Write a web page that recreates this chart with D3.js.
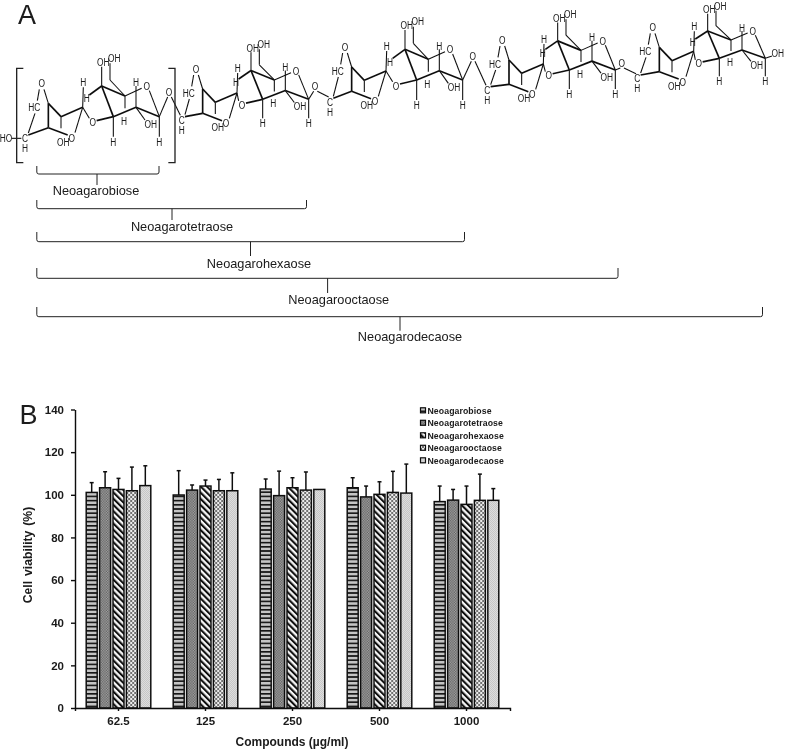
<!DOCTYPE html>
<html><head><meta charset="utf-8">
<script src="https://cdnjs.cloudflare.com/ajax/libs/d3/7.8.5/d3.min.js"></script>
<style>html,body{margin:0;background:#fff}svg{display:block}text{font-family:"Liberation Sans",Arial,sans-serif;fill:#1a1a1a}</style>
</head><body><div id="c"></div>
<script>
// ---- data ----
const doses = ["62.5","125","250","500","1000"];
const seriesNames = ["Neoagarobiose","Neoagarotetraose","Neoagarohexaose","Neoagarooctaose","Neoagarodecaose"];
const biose = [101.1,99.9,102.7,103.3,96.8];
const tetra = [103.3,102.2,99.6,99,97.5];
const hexa  = [102.5,104.1,103.3,100.2,95.5];
const octa  = [101.9,101.9,102.2,101.1,97.4];
const deca  = [104.3,101.9,102.5,100.8,97.4];
const bioseTop = [105.7,111.3,107.4,108,104.1];
const tetraTop = [110.8,104.6,111.1,104.1,102.5];
const hexaTop  = [107.7,106.9,108,106.1,104.1];
const octaTop  = [113,107.2,110.7,111,109.7];
const decaTop  = [113.6,110.3,null,114.4,102.9];
const yTicks = [0,20,40,60,80,100,120,140];
const means = [biose,tetra,hexa,octa,deca];
const tops = [bioseTop,tetraTop,hexaTop,octaTop,decaTop];

const W=787,H=750;
const svg=d3.select("#c").append("svg").attr("width",W).attr("height",H);
const defs=svg.append("defs");
defs.append("filter").attr("id","soft").attr("x","-5%").attr("y","-5%").attr("width","110%").attr("height","110%")
  .append("feGaussianBlur").attr("stdDeviation",0.35);
const root=svg.append("g").attr("filter","url(#soft)");

// ---- fills ----
function pat(id,w,h,bg,draw,tr){const p=defs.append("pattern").attr("id",id).attr("patternUnits","userSpaceOnUse").attr("width",w).attr("height",h);
  if(tr)p.attr("patternTransform",tr);
  p.append("rect").attr("width",w).attr("height",h).attr("fill",bg);draw(p);}
pat("p0",4.2,4.2,"#c4c4c4",p=>p.append("rect").attr("width",4.2).attr("height",1.6).attr("fill","#111"));
pat("p1",2.6,2.6,"#a4a4a4",p=>{p.append("rect").attr("width",1.3).attr("height",1.3).attr("fill","#606060");p.append("rect").attr("x",1.3).attr("y",1.3).attr("width",1.3).attr("height",1.3).attr("fill","#606060");});
pat("p2",4.4,4.4,"#f6f6f6",p=>p.append("rect").attr("width",2.1).attr("height",4.4).attr("fill","#111"),"rotate(-45)");
pat("p3",4,4,"#ececec",p=>{p.append("rect").attr("width",2).attr("height",2).attr("fill","#707070");p.append("rect").attr("x",2).attr("y",2).attr("width",2).attr("height",2).attr("fill","#707070");});
pat("p4",2,2,"#e4e4e4",p=>{p.append("rect").attr("width",1).attr("height",1).attr("fill","#c0c0c0");p.append("rect").attr("x",1).attr("y",1).attr("width",1).attr("height",1).attr("fill","#c0c0c0");});

// ---- panel B chart ----
const x0=d3.scaleBand().domain(doses).range([75,510]);
const x1=d3.scaleBand().domain(d3.range(5)).range([0,64.6]).paddingInner(0.18);
const y=d3.scaleLinear().domain([0,140]).range([708,409.5]);
const gB=root.append("g");
const groups=gB.selectAll("g.dose").data(doses).join("g").attr("class","dose")
  .attr("transform",d=>`translate(${x0(d)+x0.bandwidth()/2-32.3},0)`);
groups.each(function(d,i){
  const g=d3.select(this);
  means.forEach((m,s)=>{
    const bx=x1(s),bw=x1.bandwidth(),cx=bx+bw/2;
    if(tops[s][i]!=null){
      g.append("line").attr("x1",cx).attr("x2",cx).attr("y1",y(m[i])).attr("y2",y(tops[s][i])).attr("stroke","#111").attr("stroke-width",1.5);
      g.append("line").attr("x1",cx-2).attr("x2",cx+2).attr("y1",y(tops[s][i])).attr("y2",y(tops[s][i])).attr("stroke","#111").attr("stroke-width",1.5);
    }
    g.append("rect").attr("x",bx).attr("width",bw).attr("y",y(m[i])).attr("height",y(0)-y(m[i]))
      .attr("fill",`url(#p${s})`).attr("stroke","#111").attr("stroke-width",1.5);
  });
});
const axY=gB.append("g").attr("transform","translate(75,0)").call(d3.axisLeft(y).tickValues(yTicks).tickSize(4).tickSizeOuter(0).tickPadding(7));
const axX=gB.append("g").attr("transform","translate(0,708)").call(d3.axisBottom(x0).tickSize(3).tickSizeOuter(3).tickPadding(6));
[axY,axX].forEach(a=>{a.selectAll("path,line").attr("stroke","#111").attr("stroke-width",1.4);
  a.selectAll("text").attr("font-size",11.5).attr("font-weight","bold").attr("fill","#1a1a1a").attr("font-family",'"Liberation Sans"');});
gB.append("text").attr("transform","translate(32,555) rotate(-90)").attr("text-anchor","middle").attr("font-size",12.2).attr("font-weight","bold").attr("word-spacing",1.5).text("Cell viability (%)");
gB.append("text").attr("x",292).attr("y",746).attr("text-anchor","middle").attr("font-size",12).attr("font-weight","bold").text("Compounds (µg/ml)");

// legend
const legY=d3.scalePoint().domain(seriesNames).range([410.5,460.5]);
const leg=gB.selectAll("g.leg").data(seriesNames).join("g").attr("class","leg").attr("transform",d=>`translate(420,${legY(d)})`);
leg.append("rect").attr("x",0.5).attr("y",-2.7).attr("width",5).attr("height",5).attr("stroke","#111").attr("stroke-width",1.2).attr("fill",(d,i)=>`url(#p${i})`);
leg.append("text").attr("x",7.5).attr("y",3).attr("font-size",8.7).attr("font-weight","bold").attr("letter-spacing",0.1).text(d=>d);

// panel letters
root.append("text").attr("x",18).attr("y",24).attr("font-size",27).text("A");
root.append("text").attr("x",19.5).attr("y",424).attr("font-size",27).text("B");

// ---- panel A: structure ----
const gA=root.append("g").attr("transform","scale(0.33333)");
const unitL=[[0,0],[463,-43],[910,-109],[1382,-130],[1833,-168]];
const unitR=[[0,0],[448,-52],[910,-110],[1368,-140],[1818,-175]];
const unitK=[1,0.94,1,0.95,0.89];
const chainC=[[75,415],[545,360],[990,305],[1462,270],[1912,235]];
const linkO=[[507,275],[945,258],[1418,168],[1865,188]];
const splitX=255;
const bold=[[145,383,203,405],[145,383,145,310],[145,310,183,350],[183,350,248,322],[290,362,340,350],[305,258,375,288],[340,350,408,322],[408,322,478,350],[340,350,305,258],[305,258,268,285]];
const thin=[[145,310,132,268],[118,268,112,302],[183,350,183,385],[248,322,225,398],[248,322,268,355],[248,322,250,262],[340,350,340,410],[305,258,305,200],[375,288,375,325],[375,288,330,240],[330,240,330,190],[408,322,408,258],[375,288,425,265],[448,272,478,350],[408,322,435,360],[478,350,478,410]];
const labels=[["HC",103,322],["O",125,250],["OH",190,425],["O",215,413],["H",250,247],["H",260,295],["O",278,367],["H",340,425],["H",372,362],["OH",310,185],["OH",343,173],["H",408,247],["O",440,258],["OH",452,372],["H",478,425]];
function label(g,t,px,py){g.append("text").attr("transform",`translate(${px},${py+12}) scale(0.76,1)`).attr("text-anchor","middle").attr("font-size",33).text(t);}
function bond(g,a,b,sw){g.append("line").attr("x1",a[0]).attr("y1",a[1]).attr("x2",b[0]).attr("y2",b[1]).attr("stroke","#111").attr("stroke-width",sw);}
unitL.forEach((_,i)=>{
  const u=gA.append("g");
  const P=(px,py)=>{ if(px<splitX) return [px+unitL[i][0],py+unitL[i][1]];
    return [px+unitR[i][0],350+unitR[i][1]+unitK[i]*(py-350)]; };
  bold.forEach(b=>bond(u,P(b[0],b[1]),P(b[2],b[3]),5));
  thin.forEach(b=>bond(u,P(b[0],b[1]),P(b[2],b[3]),3.2));
  labels.forEach(l=>{const p=P(l[1],l[2]);label(u,l[0],p[0],p[1]);});
  const c=chainC[i];
  label(u,"C",c[0],c[1]);label(u,"H",c[0],c[1]+30);
  bond(u,[c[0]+10,c[1]-10],P(145,383),5);
  bond(u,[c[0]+10,c[1]-16],P(105,340),3.2);
  if(i<4){const o=linkO[i],n=chainC[i+1];
    label(u,"O",o[0],o[1]);
    bond(u,P(478,350),[o[0]-4,o[1]+16],3.2);
    bond(u,[o[0]+7,o[1]+16],[n[0]-4,n[1]-14],3.2);
  }
});
// ends of the chain
const endL=gA.append("g");
bond(endL,[35,415],[64,415],3.2);
label(endL,"HO",18,415);
const eEnd=[478+unitR[4][0],350+unitR[4][1]];
bond(endL,eEnd,[2316,168],3.2);
label(endL,"OH",2333,160);
// square bracket around the repeat unit
const sb=d3.line();
gA.append("path").attr("d",sb([[70,205],[50,205],[50,488],[70,488]])).attr("fill","none").attr("stroke","#222").attr("stroke-width",4);
gA.append("path").attr("d",sb([[505,205],[525,205],[525,488],[505,488]])).attr("fill","none").attr("stroke","#222").attr("stroke-width",4);

// length brackets
const bracketEnd=[159,306.5,464.5,618,762.5];
const bracketTop=[166,200,232,268,307];
const bracketBase=[174,208.7,241.7,278.3,316.7];
const stemX=[97,172,250.5,327.6,400];
const stemEnd=[185,220,256,293,330.7];
const labelX=[96,182,259,338.7,410];
const labelY=[195,231,267.8,304.3,341.3];
seriesNames.forEach((n,i)=>{
  const a=36.8,b=bracketEnd[i],t=bracketTop[i],v=bracketBase[i];
  root.append("path").attr("d",`M${a},${t}V${v-2}Q${a},${v} ${a+2},${v}H${b-2}Q${b},${v} ${b},${v-2}V${t}M${stemX[i]},${v}V${stemEnd[i]}`).attr("fill","none").attr("stroke","#222").attr("stroke-width",1);
  root.append("text").attr("transform",`translate(${labelX[i]},${labelY[i]}) scale(0.94,1)`).attr("text-anchor","middle").attr("font-size",13.6).text(n);
});
</script></body></html>
